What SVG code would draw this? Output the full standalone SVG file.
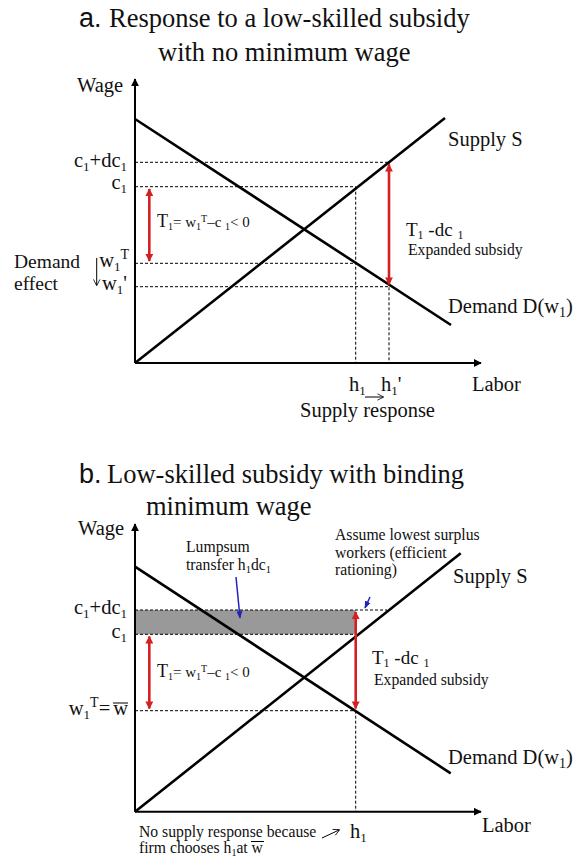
<svg xmlns="http://www.w3.org/2000/svg" width="588" height="860" viewBox="0 0 588 860">
<style>
text{font-family:"Liberation Serif","Times New Roman",serif;fill:#111}
.ttl{font-size:26.5px}
.big{font-family:"Liberation Sans",Arial,sans-serif;font-size:27px}
.lb{font-size:20.5px}
.sm{font-size:15.7px}
.ax{stroke:#000;stroke-width:2;fill:none}
.cv{stroke:#000;stroke-width:2.6;fill:none}
.ds{stroke:#000;stroke-width:1;stroke-dasharray:3 2;fill:none}
.rd{stroke:#d42020;stroke-width:2.6;fill:none}
.bl{stroke:#2222bb;stroke-width:1.5;fill:none}
.th{stroke:#000;stroke-width:1;fill:none}
</style>
<defs>
<marker id="ah" viewBox="0 0 10 10" refX="9" refY="5" markerWidth="4" markerHeight="4" orient="auto-start-reverse"><path d="M0,0 L10,5 L0,10 z" fill="#000"/></marker>
<marker id="rh" viewBox="0 0 10 10" refX="9" refY="5" markerWidth="3" markerHeight="3" orient="auto-start-reverse"><path d="M0,0 L10,5 L0,10 z" fill="#d42020"/></marker>
<marker id="bh" viewBox="0 0 10 10" refX="9" refY="5" markerWidth="5" markerHeight="5" orient="auto"><path d="M0,1 L10,5 L0,9 z" fill="#2222bb"/></marker>
<marker id="th" viewBox="0 0 10 10" refX="9" refY="5" markerWidth="8" markerHeight="8" orient="auto"><path d="M2,1 L10,5 L2,9" fill="none" stroke="#000" stroke-width="1"/></marker>
</defs>

<!-- Panel a -->
<g id="title-a">
<text x="79" y="27" class="big">a.</text>
<text x="109" y="27" class="ttl">Response to a low-skilled subsidy</text>
<text x="158" y="61" class="ttl">with no minimum wage</text>
</g>
<g id="axes-a">
<line x1="135" y1="363" x2="135" y2="79" class="ax" marker-end="url(#ah)"/>
<line x1="135" y1="363" x2="481" y2="363" class="ax" marker-end="url(#ah)"/>
<text x="77" y="92" class="lb">Wage</text>
<text x="472" y="391" class="lb">Labor</text>
</g>
<g id="guides-a">
<line x1="135" y1="162.3" x2="389" y2="162.3" class="ds"/>
<line x1="135" y1="186.7" x2="355.7" y2="186.7" class="ds"/>
<line x1="135" y1="263.3" x2="355.7" y2="263.3" class="ds"/>
<line x1="135" y1="286.7" x2="389" y2="286.7" class="ds"/>
<line x1="355.7" y1="186.7" x2="355.7" y2="363" class="ds"/>
<line x1="389" y1="162.3" x2="389" y2="363" class="ds"/>
</g>
<g id="supply-a">
<line x1="135" y1="363" x2="445" y2="118" class="cv"/>
<text x="448" y="146" class="lb">Supply S</text>
</g>
<g id="demand-a">
<line x1="135" y1="119" x2="451" y2="325" class="cv"/>
<text x="448" y="313" class="lb">Demand D(w<tspan font-size="14" dy="4">1</tspan><tspan dy="-4">)</tspan></text>
</g>
<g id="labels-a">
<text x="127" y="167" text-anchor="end" class="lb">c<tspan font-size="13" dy="4">1</tspan><tspan dy="-4">+dc</tspan><tspan font-size="13" dy="4">1</tspan></text>
<text x="127" y="189" text-anchor="end" class="lb">c<tspan font-size="13" dy="4">1</tspan></text>
<text x="129" y="267" text-anchor="end" class="lb">w<tspan font-size="13" dy="4">1</tspan><tspan font-size="14" dy="-12">T</tspan></text>
<text x="127" y="290" text-anchor="end" class="lb">w<tspan font-size="13" dy="4">1</tspan><tspan dy="-4">'</tspan></text>
<text x="14" y="268" font-size="19.5">Demand</text>
<text x="14" y="290" font-size="19.5">effect</text>
<line x1="96.7" y1="258" x2="96.7" y2="285" class="th" marker-end="url(#th)"/>
<text x="349" y="391" class="lb">h<tspan font-size="13" dy="4">1</tspan></text>
<text x="381" y="391" class="lb">h<tspan font-size="13" dy="4">1</tspan><tspan dy="-4">'</tspan></text>
<line x1="365" y1="397" x2="383" y2="397" class="th" marker-end="url(#th)"/>
<text x="300" y="417" class="lb">Supply response</text>
</g>
<g id="transfer-a">
<line x1="149.3" y1="189" x2="149.3" y2="261" class="rd" marker-start="url(#rh)" marker-end="url(#rh)"/>
<text x="157" y="227" font-size="15"><tspan font-size="18">T</tspan><tspan font-size="10" dy="3">1</tspan><tspan dy="-3">= w</tspan><tspan font-size="10" dy="3">1</tspan><tspan font-size="10" dy="-8">T</tspan><tspan dy="5">–c </tspan><tspan font-size="10" dy="3">1</tspan><tspan dy="-3">&lt; 0</tspan></text>
</g>
<g id="subsidy-a">
<line x1="389" y1="164.5" x2="389" y2="284.5" class="rd" marker-start="url(#rh)" marker-end="url(#rh)"/>
<text x="406" y="236" font-size="19">T<tspan font-size="12" dy="3">1</tspan><tspan dy="-3"> -dc </tspan><tspan font-size="12" dy="3">1</tspan></text>
<text x="408" y="255" class="sm">Expanded subsidy</text>
</g>

<!-- Panel b -->
<g id="title-b">
<text x="79" y="483" class="big">b.</text>
<text x="107" y="483" class="ttl">Low-skilled subsidy with binding</text>
<text x="146" y="515" class="ttl">minimum wage</text>
</g>
<g id="lumpsum-b">
<rect x="135" y="610" width="220.7" height="24.3" fill="#999"/>
<line x1="135" y1="610" x2="387" y2="610" class="ds"/>
<line x1="135" y1="634.3" x2="355.7" y2="634.3" class="ds"/>
</g>
<g id="axes-b">
<line x1="135" y1="811.7" x2="135" y2="524" class="ax" marker-end="url(#ah)"/>
<line x1="135" y1="811.7" x2="481" y2="811.7" class="ax" marker-end="url(#ah)"/>
<text x="78" y="535" class="lb">Wage</text>
<text x="482" y="832" class="lb">Labor</text>
</g>
<g id="guides-b">
<line x1="135" y1="710.7" x2="355.7" y2="710.7" class="ds"/>
<line x1="355.7" y1="710.7" x2="355.7" y2="811.7" class="ds"/>
</g>
<g id="supply-b">
<line x1="135" y1="811.7" x2="460.7" y2="553.3" class="cv"/>
<text x="453" y="583" class="lb">Supply S</text>
</g>
<g id="demand-b">
<line x1="135" y1="566.7" x2="450.7" y2="773.3" class="cv"/>
<text x="448" y="764" class="lb">Demand D(w<tspan font-size="14" dy="4">1</tspan><tspan dy="-4">)</tspan></text>
</g>
<g id="labels-b">
<text x="127" y="614" text-anchor="end" class="lb">c<tspan font-size="13" dy="4">1</tspan><tspan dy="-4">+dc</tspan><tspan font-size="13" dy="4">1</tspan></text>
<text x="127" y="638" text-anchor="end" class="lb">c<tspan font-size="13" dy="4">1</tspan></text>
<text x="128" y="715" text-anchor="end" class="lb">w<tspan font-size="13" dy="4">1</tspan><tspan font-size="14" dy="-12">T</tspan><tspan dy="8">=</tspan><tspan dx="3">w</tspan></text>
<line x1="113" y1="703" x2="128" y2="703" class="th" stroke-width="1.2"/>
<text x="350" y="838" class="lb">h<tspan font-size="13" dy="4">1</tspan></text>
</g>
<g id="note-lumpsum">
<text x="186" y="552" class="sm">Lumpsum</text>
<text x="186" y="570" class="sm">transfer h<tspan font-size="10.5" dy="3">1</tspan><tspan dy="-3">dc</tspan><tspan font-size="10.5" dy="3">1</tspan></text>
<line x1="236" y1="577" x2="240" y2="618" class="bl" marker-end="url(#bh)"/>
</g>
<g id="note-rationing">
<text x="335" y="540" class="sm">Assume lowest surplus</text>
<text x="335" y="558" class="sm">workers (efficient</text>
<text x="335" y="575" class="sm">rationing)</text>
<line x1="370" y1="597" x2="365" y2="608" class="bl" marker-end="url(#bh)"/>
</g>
<g id="transfer-b">
<line x1="149.3" y1="636.5" x2="149.3" y2="708.5" class="rd" marker-start="url(#rh)" marker-end="url(#rh)"/>
<text x="157" y="677" font-size="15"><tspan font-size="18">T</tspan><tspan font-size="10" dy="3">1</tspan><tspan dy="-3">= w</tspan><tspan font-size="10" dy="3">1</tspan><tspan font-size="10" dy="-8">T</tspan><tspan dy="5">–c </tspan><tspan font-size="10" dy="3">1</tspan><tspan dy="-3">&lt; 0</tspan></text>
</g>
<g id="subsidy-b">
<line x1="355.7" y1="612" x2="355.7" y2="708.5" class="rd" marker-start="url(#rh)" marker-end="url(#rh)"/>
<text x="372" y="664" font-size="19">T<tspan font-size="12" dy="3">1</tspan><tspan dy="-3"> -dc </tspan><tspan font-size="12" dy="3">1</tspan></text>
<text x="374" y="685" class="sm">Expanded subsidy</text>
</g>
<g id="note-supply">
<text x="139" y="837" class="sm">No supply response because</text>
<text x="139" y="853" class="sm">firm chooses h<tspan font-size="10" dy="3">1</tspan><tspan dy="-3">at w</tspan></text>
<line x1="251" y1="841.5" x2="264" y2="841.5" class="th"/>
<line x1="322" y1="838" x2="339" y2="830" class="th" stroke-width="1.5" marker-end="url(#th)"/>
</g>
</svg>
